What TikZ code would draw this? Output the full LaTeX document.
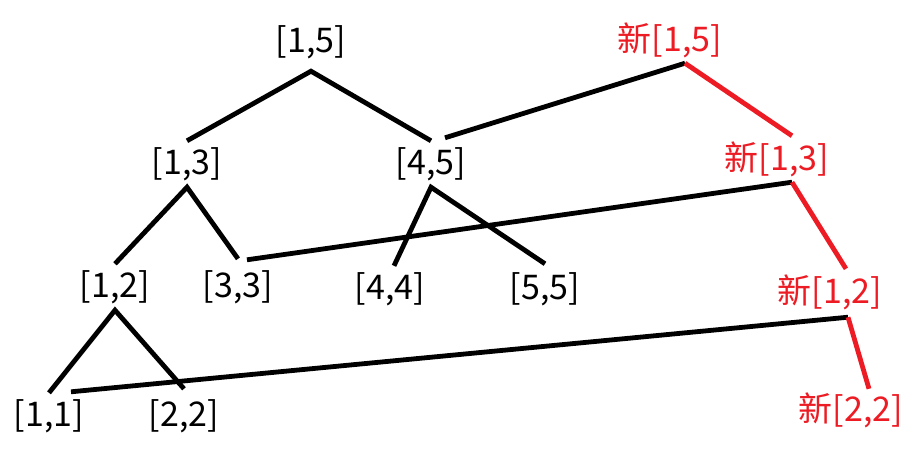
\documentclass[tikz,border=0pt]{standalone}
\usepackage{fontspec}
\setmainfont{Noto Sans CJK SC}
\begin{document}
\begin{tikzpicture}[x=1pt,y=-1pt,
  seg/.style={inner sep=0pt,minimum height=46pt,font=\fontsize{34}{38}\selectfont},
  newseg/.style={seg,text=pred},
  edge/.style={line width=4.8pt,draw=black},
  redge/.style={line width=4.8pt,draw=pred}]
\definecolor{pred}{RGB}{237,28,36}
\useasboundingbox[fill=white] (0,0) rectangle (922,456);
\node[seg] (n15) at (311,42) {[1,5]};
\node[seg] (n13) at (187,164) {[1,3]};
\node[seg] (n45) at (431,164) {[4,5]};
\node[seg] (n12) at (115,287) {[1,2]};
\node[seg] (n33) at (238,287) {[3,3]};
\node[seg] (n44) at (390,289) {[4,4]};
\node[seg] (n55) at (545,289) {[5,5]};
\node[seg] (n11) at (49,416) {[1,1]};
\node[seg] (n22) at (184,416) {[2,2]};
\node[newseg] (r15) at (670,40) {新[1,5]};
\node[newseg] (r13) at (777,159) {新[1,3]};
\node[newseg] (r12) at (830,292) {新[1,2]};
\node[newseg] (r22) at (851,410) {新[2,2]};
% tree edges
\draw[edge] (n13.north) -- ([yshift=-6pt]n15.south) -- (n45.north);
\draw[edge] (n12.north) -- (n13.south) -- ([yshift=5pt]n33.north);
\draw[edge] ([xshift=4pt]n44.north) -- (n45.south) -- ([yshift=2pt]n55.north);
\draw[edge] (n11.north) -- (n12.south) -- ([yshift=4pt]n22.north);
% new version links
\draw[edge] ([xshift=14pt,yshift=3pt]n45.north) -- ([xshift=15pt]r15.south);
\draw[redge] ([xshift=15pt]r15.south) -- ([xshift=15pt]r13.north);
\draw[edge] ([xshift=9pt,yshift=4pt]n33.north) -- ([xshift=15pt]r13.south);
\draw[redge] ([xshift=15pt]r13.south) -- ([xshift=16pt]r12.north);
\draw[edge] ([xshift=22pt,yshift=1pt]n11.north) -- ([xshift=18pt,yshift=-2pt]r12.south);
\draw[redge] ([xshift=18pt,yshift=-2pt]r12.south) -- ([xshift=18pt,yshift=-2pt]r22.north);
\end{tikzpicture}
\end{document}
